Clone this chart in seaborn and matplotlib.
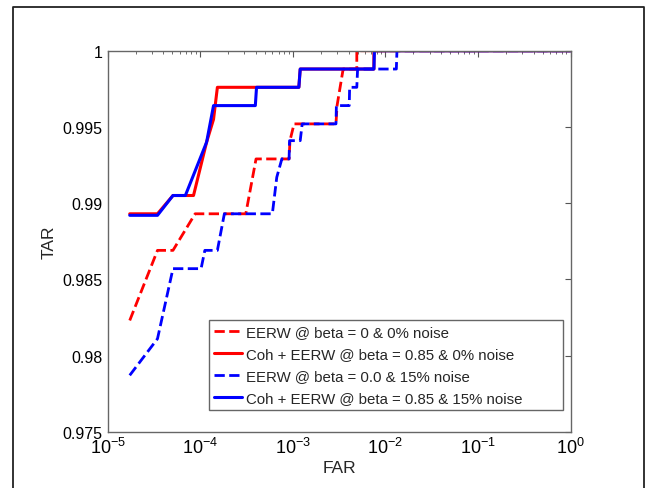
import numpy as np
import seaborn as sns
import matplotlib
matplotlib.use("Agg")
import matplotlib.pyplot as plt
from matplotlib.lines import Line2D
from matplotlib.ticker import FuncFormatter, LogLocator, NullFormatter

# values (FAR on log scale, TAR)
far_rd = [1.73e-5, 3.45e-5, 5.07e-5, 8.8e-5, 3.1e-4, 4.0e-4, 9.1e-4, 9.3e-4, 1.03e-3,
          2.92e-3, 3.0e-3, 3.49e-3, 4.9e-3, 4.9e-3, 1.0]
tar_rd = [0.9823, 0.9869, 0.9869, 0.9893, 0.9893, 0.9929, 0.9929, 0.9941, 0.9952,
          0.9952, 0.9964, 0.9988, 0.9988, 1.0, 1.0]

far_rs = [1.73e-5, 3.45e-5, 5.07e-5, 8.45e-5, 1.17e-4, 1.39e-4, 1.53e-4, 1.16e-3, 1.2e-3,
          7.5e-3, 7.5e-3, 1.0]
tar_rs = [0.9893, 0.9893, 0.9905, 0.9905, 0.9940, 0.9955, 0.9976, 0.9976, 0.9988,
          0.9988, 1.0, 1.0]

far_bd = [1.73e-5, 3.45e-5, 5.07e-5, 1.02e-4, 1.12e-4, 1.53e-4, 1.82e-4, 6.0e-4, 6.7e-4,
          7.6e-4, 9.1e-4, 9.2e-4, 1.2e-3, 1.26e-3, 2.92e-3, 2.95e-3, 4.06e-3, 4.1e-3,
          4.9e-3, 5.0e-3, 1.31e-2, 1.33e-2, 1.0]
tar_bd = [0.9787, 0.9811, 0.9857, 0.9857, 0.9869, 0.9869, 0.9893, 0.9893, 0.9917,
          0.9929, 0.9929, 0.9941, 0.9941, 0.9952, 0.9952, 0.9964, 0.9964, 0.9976,
          0.9976, 0.9988, 0.9988, 1.0, 1.0]

far_bs = [1.73e-5, 3.45e-5, 5.07e-5, 6.9e-5, 1.17e-4, 1.39e-4, 3.93e-4, 4.05e-4, 1.16e-3,
          1.2e-3, 7.5e-3, 7.6e-3, 1.0]
tar_bs = [0.9892, 0.9892, 0.9905, 0.9905, 0.9940, 0.9964, 0.9964, 0.9976, 0.9976,
          0.9988, 0.9988, 1.0, 1.0]

labels = ["EERW @ beta = 0 & 0% noise",
          "Coh + EERW @ beta = 0.85 & 0% noise",
          "EERW @ beta = 0.0 & 15% noise",
          "Coh + EERW @ beta = 0.85 & 15% noise"]

y_ticks = [0.975, 0.98, 0.985, 0.99, 0.995, 1.0]

sns.set_theme(style="white")
plt.rcParams["font.family"] = ["Liberation Sans", "DejaVu Sans"]

fig = plt.figure(figsize=(6.46, 4.89), dpi=100)
ax = fig.add_axes([0.1667, 0.1151, 0.7167, 0.7791])

series = [(far_rd, tar_rd, "#ff0000", "--", 2.0),
          (far_rs, tar_rs, "#ff0000", "-", 2.2),
          (far_bd, tar_bd, "#0000ff", "--", 2.0),
          (far_bs, tar_bs, "#0000ff", "-", 2.2)]
for (fx, ty, col, ls, lw), lab in zip(series, labels):
    sns.lineplot(x=fx, y=ty, ax=ax, estimator=None, sort=False, color=col,
                 linestyle=ls, linewidth=lw, label=lab)

ax.set_xscale("log")
ax.set_xlim(1e-5, 1)
ax.set_ylim(0.975, 1.0)
ax.set_yticks(y_ticks)
ax.yaxis.set_major_formatter(FuncFormatter(lambda v, p: "%g" % v))
ax.xaxis.set_major_locator(LogLocator(base=10, numticks=10))
ax.xaxis.set_minor_locator(LogLocator(base=10, subs=np.arange(2, 10), numticks=20))
ax.xaxis.set_minor_formatter(NullFormatter())

ax.tick_params(which="both", direction="in", top=True, right=True, colors="#555555",
               labelcolor="black", labelsize=11.5)
ax.tick_params(axis="x", which="major", labelsize=13)
ax.tick_params(which="major", length=4, width=0.8, pad=4)
ax.tick_params(which="minor", length=2.5, width=0.6)
for sp in ax.spines.values():
    sp.set_color("#666666")
    sp.set_linewidth(1.0)

ax.set_xlabel("FAR", fontsize=12.5, labelpad=2)
ax.set_ylabel("TAR", fontsize=12.5, labelpad=4)

leg = ax.legend(loc="lower left", bbox_to_anchor=(0.2194, 0.057, 0.765, 0.237),
                mode="expand", fontsize=10.8,
                frameon=True, fancybox=False, edgecolor="#666666", framealpha=1,
                handlelength=1.9, handletextpad=0.25, labelspacing=0.55,
                borderpad=0.3, borderaxespad=0)
leg.get_frame().set_linewidth(1.0)

# outer frame around the picture
fx0, fx1, fy1 = 12.7 / 646, 644 / 646, 1 - 7.7 / 489
fig.add_artist(Line2D([fx0, fx0, fx1, fx1], [0, fy1, fy1, 0], color="#222222",
                      linewidth=1.3, transform=fig.transFigure))

fig.savefig("out.png", dpi=100, facecolor="white")
